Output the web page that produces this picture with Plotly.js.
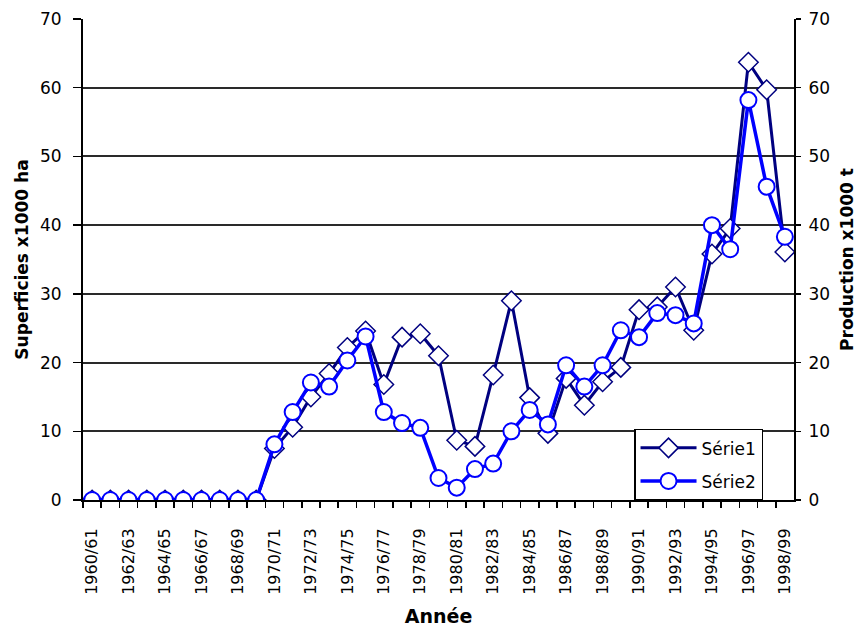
<!DOCTYPE html>
<html>
<head>
<meta charset="utf-8">
<script src="https://cdn.plot.ly/plotly-3.0.1.min.js"></script>
<style>html,body{margin:0;padding:0;background:#fff;}#chart{width:861px;height:629px;}</style>
</head>
<body>
<div id="chart"></div>
<script>
const categories = ["1960/61","1961/62","1962/63","1963/64","1964/65","1965/66","1966/67","1967/68","1968/69","1969/70",
  "1970/71","1971/72","1972/73","1973/74","1974/75","1975/76","1976/77","1977/78","1978/79","1979/80",
  "1980/81","1981/82","1982/83","1983/84","1984/85","1985/86","1986/87","1987/88","1988/89","1989/90",
  "1990/91","1991/92","1992/93","1993/94","1994/95","1995/96","1996/97","1997/98","1998/99"];
const serie1 = [0,0,0,0,0,0,0,0,0,0,
  7.5,10.6,15.0,18.4,22.2,24.6,16.8,23.7,24.2,21.0,
  8.7,7.8,18.2,29.0,14.9,9.7,17.7,13.8,17.2,19.3,
  27.7,28.1,31.0,24.7,35.8,39.5,63.7,59.7,36.1];
const serie2 = [0,0,0,0,0,0,0,0,0,0,
  8.1,12.8,17.1,16.5,20.3,23.8,12.8,11.2,10.5,3.2,
  1.8,4.5,5.3,10.0,13.1,11.0,19.6,16.5,19.6,24.7,
  23.7,27.2,26.9,25.7,40.0,36.5,58.2,45.6,38.3];
const seriesNames = ["Série1","Série2"];
const yTicks = [0,10,20,30,40,50,60,70];

const idx = categories.map((c, i) => i);
const labelIdx = idx.filter(i => i % 2 === 0);
const labelText = labelIdx.map(i => categories[i]);
const boundaries = [-0.5].concat(idx.slice(0, -1).map(i => i + 0.5));

const fontFam = 'DejaVu Sans, Verdana, sans-serif';

const traces = [
  {x: idx, y: serie1, name: seriesNames[0], legendgroup: 'a', type: 'scatter', mode: 'lines+markers',
   line: {color: '#000080', width: 3},
   marker: {symbol: 'diamond', size: 15, color: '#ffffff', line: {color: '#000080', width: 1.5}}},
  {x: idx, y: serie2, name: seriesNames[1], legendgroup: 'b', type: 'scatter', mode: 'lines+markers', yaxis: 'y2',
   line: {color: '#0000ff', width: 3.5},
   marker: {symbol: 'circle', size: 16, color: '#ffffff', line: {color: '#0000ff', width: 2}}}
];

const layout = {
  width: 861, height: 629,
  margin: {l: 83, r: 67, t: 19, b: 129},
  paper_bgcolor: '#fff', plot_bgcolor: '#fff',
  font: {family: fontFam, color: '#000', size: 16},
  showlegend: true,
  legend: {x: 0.775, y: 0.148, xanchor: 'left', yanchor: 'top',
    bgcolor: '#fff', bordercolor: '#000', borderwidth: 1.5,
    font: {family: fontFam, size: 17, color: '#000'}, itemwidth: 56, tracegroupgap: 8},
  xaxis: {
    range: [-0.5, 38.5], tickmode: 'array', tickvals: labelIdx, ticktext: labelText,
    tickangle: -90, ticks: '', tickfont: {family: fontFam, size: 16}, ticklabelstandoff: 20,
    showline: true, linecolor: '#000', linewidth: 2, showgrid: false, zeroline: false,
    minor: {tickmode: 'array', tickvals: boundaries, ticks: 'outside', ticklen: 6, tickwidth: 1.5, tickcolor: '#000', showgrid: false},
    title: {text: 'Année', font: {family: fontFam, size: 19, color: '#000', weight: 'bold'}, standoff: 16}
  },
  xaxis2: {
    range: [-0.5, 38.5], overlaying: 'x', anchor: 'y', side: 'bottom',
    tickmode: 'array', tickvals: boundaries, ticks: 'inside', ticklen: 6, tickwidth: 1.5, tickcolor: '#000',
    showticklabels: false, showline: false, showgrid: false, zeroline: false
  },
  yaxis: {
    range: [0, 70], tickmode: 'array', tickvals: yTicks, ticks: 'outside', ticklen: 8, tickwidth: 1.5, tickcolor: '#000',
    showline: true, linecolor: '#000', linewidth: 2, showgrid: true, gridcolor: '#2a2a2a', gridwidth: 2,
    zeroline: false, tickfont: {family: fontFam, size: 17}, ticklabelstandoff: 8,
    title: {text: 'Superficies x1000 ha', font: {family: fontFam, size: 17, color: '#000', weight: 'bold'}, standoff: 7}
  },
  yaxis2: {
    range: [0, 70], tickmode: 'array', tickvals: yTicks, overlaying: 'y', side: 'right', anchor: 'x',
    ticks: 'outside', ticklen: 5, tickwidth: 1.5, tickcolor: '#000',
    showline: true, linecolor: '#000', linewidth: 2, showgrid: false, zeroline: false,
    tickfont: {family: fontFam, size: 17}, ticklabelstandoff: 4,
    title: {text: 'Production x1000 t', font: {family: fontFam, size: 17, color: '#000', weight: 'bold'}, standoff: 12}
  }
};

Plotly.newPlot('chart', traces, layout, {displayModeBar: false, staticPlot: true});
</script>
</body>
</html>
